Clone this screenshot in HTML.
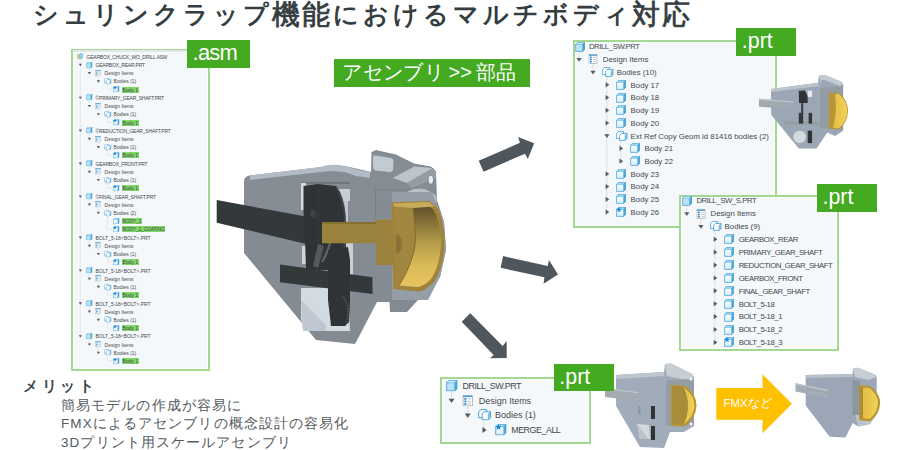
<!DOCTYPE html><html><head><meta charset="utf-8"><style>
html,body{margin:0;padding:0;background:#fff;width:900px;height:450px;overflow:hidden;font-family:"Liberation Sans", sans-serif;}
.t{position:absolute;white-space:nowrap;color:#43484d;}
</style></head><body>

<svg width="0" height="0" style="position:absolute;overflow:visible">
<defs>
<linearGradient id="cfront" x1="0" y1="0" x2="0" y2="1"><stop offset="0" stop-color="#ffffff"/><stop offset="1" stop-color="#d6eff9"/></linearGradient>
<symbol id="cubeb" viewBox="0 0 10 10">
  <path d="M0.6 2.4 L2.6 0.4 L9.6 0.4 L9.6 7.4 L7.6 9.4 L0.6 9.4 Z" fill="#b9e4f6" stroke="#3d9ad6" stroke-width="0.7"/>
  <path d="M0.6 2.4 L2.6 0.4 L9.6 0.4 L7.6 2.4 Z" fill="#dcf3fc" stroke="#3d9ad6" stroke-width="0.5"/>
  <path d="M7.6 2.4 L9.6 0.4 L9.6 7.4 L7.6 9.4 Z" fill="#4fa9d9" stroke="#3d9ad6" stroke-width="0.5"/>
</symbol>
<symbol id="cube" viewBox="0 0 10 10">
  <path d="M0.6 2.4 L2.6 0.4 L9.6 0.4 L9.6 7.4 L7.6 9.4 L0.6 9.4 Z" fill="url(#cfront)" stroke="#3d9ad6" stroke-width="0.7"/>
  <path d="M0.6 2.4 L2.6 0.4 L9.6 0.4 L7.6 2.4 Z" fill="#9ddcf3" stroke="#3d9ad6" stroke-width="0.4"/>
  <path d="M7.6 2.4 L9.6 0.4 L9.6 7.4 L7.6 9.4 Z" fill="#4fa9d9" stroke="#3d9ad6" stroke-width="0.4"/>
</symbol>
<symbol id="cubew" viewBox="0 0 10 10">
  <use href="#cube"/>
</symbol>
<symbol id="star" viewBox="0 0 10 10">
  <use href="#cube"/>
  <path d="M3.00 -0.30 L3.73 1.69 L5.85 1.77 L4.19 3.09 L4.76 5.13 L3.00 3.95 L1.24 5.13 L1.81 3.09 L0.15 1.77 L2.27 1.69 Z" fill="#1a86d6"/>
</symbol>
<symbol id="asm" viewBox="0 0 10 10">
  <rect x="0.5" y="2" width="7" height="7.5" fill="#f6d58a" stroke="#e0b050" stroke-width="0.6"/>
  <path d="M3 3 L4.5 1.2 L9.2 1.2 L9.2 6.5 L7.8 8.2 L3 8.2 Z" fill="#8fd0f2" stroke="#3d9ad6" stroke-width="0.6"/>
</symbol>
<symbol id="ditems" viewBox="0 0 10 10">
  <rect x="1" y="0.6" width="8" height="8.8" fill="#ffffff" stroke="#9aa4ab" stroke-width="0.6"/>
  <rect x="1" y="0.6" width="8" height="1.2" fill="#3d9ad6"/>
  <rect x="2" y="2.6" width="1.8" height="1.5" fill="#2a86d0"/>
  <rect x="2" y="4.8" width="1.8" height="1.5" fill="#2a86d0"/>
  <rect x="2" y="7" width="1.8" height="1.5" fill="#2a86d0"/>
  <path d="M5 3.3 H8 M5 5.5 H8 M5 7.7 H8" stroke="#a8b0b6" stroke-width="0.7"/>
</symbol>
<symbol id="bodies" viewBox="0 0 12 10">
  <path d="M0.6 2.6 L2.4 0.6 L7.6 0.6 L7.6 5.8 L5.8 7.6 L0.6 7.6 Z" fill="#ffffff" stroke="#3d9ad6" stroke-width="0.8"/>
  <path d="M3.6 4.4 L5.4 2.4 L10.8 2.4 L10.8 7.6 L9 9.4 L3.6 9.4 Z" fill="#ffffff" stroke="#3d9ad6" stroke-width="0.8"/>
  <path d="M9 4.4 L10.8 2.4 L10.8 7.6 L9 9.4 Z" fill="#8fcbee" stroke="#3d9ad6" stroke-width="0.5"/>
</symbol>
</defs>
</svg>

<div style="position:absolute;left:25.6px;top:-1.9px;width:40px;text-align:center;font-size:24.5px;line-height:34px;font-weight:bold;color:#343d3f;">シ</div>
<div style="position:absolute;left:55.6px;top:-1.9px;width:40px;text-align:center;font-size:24.5px;line-height:34px;font-weight:bold;color:#343d3f;">ュ</div>
<div style="position:absolute;left:85.6px;top:-1.9px;width:40px;text-align:center;font-size:24.5px;line-height:34px;font-weight:bold;color:#343d3f;">リ</div>
<div style="position:absolute;left:115.6px;top:-1.9px;width:40px;text-align:center;font-size:24.5px;line-height:34px;font-weight:bold;color:#343d3f;">ン</div>
<div style="position:absolute;left:145.6px;top:-1.9px;width:40px;text-align:center;font-size:24.5px;line-height:34px;font-weight:bold;color:#343d3f;">ク</div>
<div style="position:absolute;left:175.6px;top:-1.9px;width:40px;text-align:center;font-size:24.5px;line-height:34px;font-weight:bold;color:#343d3f;">ラ</div>
<div style="position:absolute;left:205.6px;top:-1.9px;width:40px;text-align:center;font-size:24.5px;line-height:34px;font-weight:bold;color:#343d3f;">ッ</div>
<div style="position:absolute;left:235.6px;top:-1.9px;width:40px;text-align:center;font-size:24.5px;line-height:34px;font-weight:bold;color:#343d3f;">プ</div>
<div style="position:absolute;left:265.6px;top:-2.0px;width:40px;text-align:center;font-size:28px;line-height:34px;font-weight:normal;color:#343d3f;-webkit-text-stroke:0.8px #343d3f;">機</div>
<div style="position:absolute;left:295.6px;top:-2.0px;width:40px;text-align:center;font-size:28px;line-height:34px;font-weight:normal;color:#343d3f;-webkit-text-stroke:0.8px #343d3f;">能</div>
<div style="position:absolute;left:325.6px;top:-1.9px;width:40px;text-align:center;font-size:24.5px;line-height:34px;font-weight:bold;color:#343d3f;">に</div>
<div style="position:absolute;left:355.6px;top:-1.9px;width:40px;text-align:center;font-size:24.5px;line-height:34px;font-weight:bold;color:#343d3f;">お</div>
<div style="position:absolute;left:385.6px;top:-1.9px;width:40px;text-align:center;font-size:24.5px;line-height:34px;font-weight:bold;color:#343d3f;">け</div>
<div style="position:absolute;left:415.6px;top:-1.9px;width:40px;text-align:center;font-size:24.5px;line-height:34px;font-weight:bold;color:#343d3f;">る</div>
<div style="position:absolute;left:445.6px;top:-1.9px;width:40px;text-align:center;font-size:24.5px;line-height:34px;font-weight:bold;color:#343d3f;">マ</div>
<div style="position:absolute;left:475.6px;top:-1.9px;width:40px;text-align:center;font-size:24.5px;line-height:34px;font-weight:bold;color:#343d3f;">ル</div>
<div style="position:absolute;left:505.6px;top:-1.9px;width:40px;text-align:center;font-size:24.5px;line-height:34px;font-weight:bold;color:#343d3f;">チ</div>
<div style="position:absolute;left:535.6px;top:-1.9px;width:40px;text-align:center;font-size:24.5px;line-height:34px;font-weight:bold;color:#343d3f;">ボ</div>
<div style="position:absolute;left:565.6px;top:-1.9px;width:40px;text-align:center;font-size:24.5px;line-height:34px;font-weight:bold;color:#343d3f;">デ</div>
<div style="position:absolute;left:595.6px;top:-1.9px;width:40px;text-align:center;font-size:24.5px;line-height:34px;font-weight:bold;color:#343d3f;">ィ</div>
<div style="position:absolute;left:625.6px;top:-2.0px;width:40px;text-align:center;font-size:28px;line-height:34px;font-weight:normal;color:#343d3f;-webkit-text-stroke:0.8px #343d3f;">対</div>
<div style="position:absolute;left:655.6px;top:-2.0px;width:40px;text-align:center;font-size:28px;line-height:34px;font-weight:normal;color:#343d3f;-webkit-text-stroke:0.8px #343d3f;">応</div>
<div style="position:absolute;left:71.3px;top:49px;width:138.5px;height:322px;box-sizing:border-box;border:2px solid #a2d892;background:#f5f8fa;box-shadow:inset 0 0 0 1px #fdfefe"></div>
<svg style="position:absolute;left:0;top:0;overflow:visible" width="1" height="1"><g stroke="#b4b9bd" stroke-width="0.45" stroke-dasharray="0.64 0.64"><line x1="80.37" y1="58.55" x2="80.37" y2="336.12"/><line x1="89.40" y1="66.77" x2="89.40" y2="72.95"/><line x1="98.42" y1="75.00" x2="98.42" y2="81.17"/><line x1="107.44" y1="83.22" x2="107.44" y2="89.40"/><line x1="107.44" y1="89.40" x2="113.40" y2="89.40"/><line x1="89.40" y1="99.67" x2="89.40" y2="105.84"/><line x1="98.42" y1="107.89" x2="98.42" y2="114.07"/><line x1="107.44" y1="116.12" x2="107.44" y2="122.29"/><line x1="107.44" y1="122.29" x2="113.40" y2="122.29"/><line x1="89.40" y1="132.56" x2="89.40" y2="138.74"/><line x1="98.42" y1="140.79" x2="98.42" y2="146.96"/><line x1="107.44" y1="149.01" x2="107.44" y2="155.19"/><line x1="107.44" y1="155.19" x2="113.40" y2="155.19"/><line x1="89.40" y1="165.46" x2="89.40" y2="171.64"/><line x1="98.42" y1="173.68" x2="98.42" y2="179.86"/><line x1="107.44" y1="181.91" x2="107.44" y2="188.08"/><line x1="107.44" y1="188.08" x2="113.40" y2="188.08"/><line x1="89.40" y1="198.36" x2="89.40" y2="204.53"/><line x1="98.42" y1="206.58" x2="98.42" y2="212.76"/><line x1="107.44" y1="214.80" x2="107.44" y2="229.20"/><line x1="107.44" y1="220.98" x2="113.40" y2="220.98"/><line x1="107.44" y1="229.20" x2="113.40" y2="229.20"/><line x1="89.40" y1="239.48" x2="89.40" y2="245.65"/><line x1="98.42" y1="247.70" x2="98.42" y2="253.88"/><line x1="107.44" y1="255.92" x2="107.44" y2="262.10"/><line x1="107.44" y1="262.10" x2="113.40" y2="262.10"/><line x1="89.40" y1="272.37" x2="89.40" y2="278.55"/><line x1="98.42" y1="280.60" x2="98.42" y2="286.77"/><line x1="107.44" y1="288.82" x2="107.44" y2="295.00"/><line x1="107.44" y1="295.00" x2="113.40" y2="295.00"/><line x1="89.40" y1="305.27" x2="89.40" y2="311.44"/><line x1="98.42" y1="313.49" x2="98.42" y2="319.67"/><line x1="107.44" y1="321.72" x2="107.44" y2="327.89"/><line x1="107.44" y1="327.89" x2="113.40" y2="327.89"/><line x1="89.40" y1="338.16" x2="89.40" y2="344.34"/><line x1="98.42" y1="346.39" x2="98.42" y2="352.56"/><line x1="107.44" y1="354.61" x2="107.44" y2="360.79"/><line x1="107.44" y1="360.79" x2="113.40" y2="360.79"/></g></svg>
<svg style="position:absolute;left:77.30px;top:53.30px;overflow:visible" width="6.40" height="6.40" viewBox="0 0 10 10"><use href="#asm"/></svg>
<div class="t" style="left:86.52px;top:53.79px;font-size:4.99px;line-height:5.99px;letter-spacing:-0.19px;">GEARBOX_CHUCK_WO_DRILL.ASM</div>
<svg style="position:absolute;left:86.32px;top:61.52px;overflow:visible" width="6.40" height="6.40" viewBox="0 0 10 10"><use href="#cubeb"/></svg>
<svg style="position:absolute;left:0;top:0;overflow:visible" width="1" height="1"><polygon points="78.71,63.81 82.04,63.81 80.37,66.22" fill="#555c62"/></svg>
<div class="t" style="left:95.54px;top:62.01px;font-size:4.99px;line-height:5.99px;letter-spacing:-0.19px;">GEARBOX_REAR.PRT</div>
<svg style="position:absolute;left:95.35px;top:69.75px;overflow:visible" width="6.40" height="6.40" viewBox="0 0 10 10"><use href="#ditems"/></svg>
<svg style="position:absolute;left:0;top:0;overflow:visible" width="1" height="1"><polygon points="87.73,72.03 91.06,72.03 89.40,74.45" fill="#555c62"/></svg>
<div class="t" style="left:104.56px;top:70.24px;font-size:4.99px;line-height:5.99px;">Design Items</div>
<svg style="position:absolute;left:104.37px;top:77.97px;overflow:visible" width="7.68" height="6.40" viewBox="0 0 12 10"><use href="#bodies"/></svg>
<svg style="position:absolute;left:0;top:0;overflow:visible" width="1" height="1"><polygon points="96.76,80.26 100.08,80.26 98.42,82.67" fill="#555c62"/></svg>
<div class="t" style="left:113.59px;top:78.46px;font-size:4.99px;line-height:5.99px;">Bodies (1)</div>
<svg style="position:absolute;left:113.40px;top:86.20px;overflow:visible" width="6.40" height="6.40" viewBox="0 0 10 10"><use href="#star"/></svg>
<div class="t" style="left:122.61px;top:86.68px;font-size:4.99px;line-height:5.99px;background:#80d866;padding:0 0.77px;margin-left:-0.77px;">Body 1</div>
<svg style="position:absolute;left:86.32px;top:94.42px;overflow:visible" width="6.40" height="6.40" viewBox="0 0 10 10"><use href="#cubeb"/></svg>
<svg style="position:absolute;left:0;top:0;overflow:visible" width="1" height="1"><polygon points="78.71,96.70 82.04,96.70 80.37,99.12" fill="#555c62"/></svg>
<div class="t" style="left:95.54px;top:94.91px;font-size:4.99px;line-height:5.99px;letter-spacing:-0.19px;">©PRIMARY_GEAR_SHAFT.PRT</div>
<svg style="position:absolute;left:95.35px;top:102.64px;overflow:visible" width="6.40" height="6.40" viewBox="0 0 10 10"><use href="#ditems"/></svg>
<svg style="position:absolute;left:0;top:0;overflow:visible" width="1" height="1"><polygon points="87.73,104.93 91.06,104.93 89.40,107.34" fill="#555c62"/></svg>
<div class="t" style="left:104.56px;top:103.13px;font-size:4.99px;line-height:5.99px;">Design Items</div>
<svg style="position:absolute;left:104.37px;top:110.87px;overflow:visible" width="7.68" height="6.40" viewBox="0 0 12 10"><use href="#bodies"/></svg>
<svg style="position:absolute;left:0;top:0;overflow:visible" width="1" height="1"><polygon points="96.76,113.15 100.08,113.15 98.42,115.57" fill="#555c62"/></svg>
<div class="t" style="left:113.59px;top:111.36px;font-size:4.99px;line-height:5.99px;">Bodies (1)</div>
<svg style="position:absolute;left:113.40px;top:119.09px;overflow:visible" width="6.40" height="6.40" viewBox="0 0 10 10"><use href="#star"/></svg>
<div class="t" style="left:122.61px;top:119.58px;font-size:4.99px;line-height:5.99px;background:#80d866;padding:0 0.77px;margin-left:-0.77px;">Body 1</div>
<svg style="position:absolute;left:86.32px;top:127.32px;overflow:visible" width="6.40" height="6.40" viewBox="0 0 10 10"><use href="#cubeb"/></svg>
<svg style="position:absolute;left:0;top:0;overflow:visible" width="1" height="1"><polygon points="78.71,129.60 82.04,129.60 80.37,132.01" fill="#555c62"/></svg>
<div class="t" style="left:95.54px;top:127.80px;font-size:4.99px;line-height:5.99px;letter-spacing:-0.19px;">©REDUCTION_GEAR_SHAFT.PRT</div>
<svg style="position:absolute;left:95.35px;top:135.54px;overflow:visible" width="6.40" height="6.40" viewBox="0 0 10 10"><use href="#ditems"/></svg>
<svg style="position:absolute;left:0;top:0;overflow:visible" width="1" height="1"><polygon points="87.73,137.82 91.06,137.82 89.40,140.24" fill="#555c62"/></svg>
<div class="t" style="left:104.56px;top:136.03px;font-size:4.99px;line-height:5.99px;">Design Items</div>
<svg style="position:absolute;left:104.37px;top:143.76px;overflow:visible" width="7.68" height="6.40" viewBox="0 0 12 10"><use href="#bodies"/></svg>
<svg style="position:absolute;left:0;top:0;overflow:visible" width="1" height="1"><polygon points="96.76,146.05 100.08,146.05 98.42,148.46" fill="#555c62"/></svg>
<div class="t" style="left:113.59px;top:144.25px;font-size:4.99px;line-height:5.99px;">Bodies (1)</div>
<svg style="position:absolute;left:113.40px;top:151.99px;overflow:visible" width="6.40" height="6.40" viewBox="0 0 10 10"><use href="#star"/></svg>
<div class="t" style="left:122.61px;top:152.48px;font-size:4.99px;line-height:5.99px;background:#80d866;padding:0 0.77px;margin-left:-0.77px;">Body 1</div>
<svg style="position:absolute;left:86.32px;top:160.21px;overflow:visible" width="6.40" height="6.40" viewBox="0 0 10 10"><use href="#cubeb"/></svg>
<svg style="position:absolute;left:0;top:0;overflow:visible" width="1" height="1"><polygon points="78.71,162.50 82.04,162.50 80.37,164.91" fill="#555c62"/></svg>
<div class="t" style="left:95.54px;top:160.70px;font-size:4.99px;line-height:5.99px;letter-spacing:-0.19px;">GEARBOX_FRONT.PRT</div>
<svg style="position:absolute;left:95.35px;top:168.44px;overflow:visible" width="6.40" height="6.40" viewBox="0 0 10 10"><use href="#ditems"/></svg>
<svg style="position:absolute;left:0;top:0;overflow:visible" width="1" height="1"><polygon points="87.73,170.72 91.06,170.72 89.40,173.13" fill="#555c62"/></svg>
<div class="t" style="left:104.56px;top:168.92px;font-size:4.99px;line-height:5.99px;">Design Items</div>
<svg style="position:absolute;left:104.37px;top:176.66px;overflow:visible" width="7.68" height="6.40" viewBox="0 0 12 10"><use href="#bodies"/></svg>
<svg style="position:absolute;left:0;top:0;overflow:visible" width="1" height="1"><polygon points="96.76,178.94 100.08,178.94 98.42,181.36" fill="#555c62"/></svg>
<div class="t" style="left:113.59px;top:177.15px;font-size:4.99px;line-height:5.99px;">Bodies (1)</div>
<svg style="position:absolute;left:113.40px;top:184.88px;overflow:visible" width="6.40" height="6.40" viewBox="0 0 10 10"><use href="#star"/></svg>
<div class="t" style="left:122.61px;top:185.37px;font-size:4.99px;line-height:5.99px;background:#80d866;padding:0 0.77px;margin-left:-0.77px;">Body 1</div>
<svg style="position:absolute;left:86.32px;top:193.11px;overflow:visible" width="6.40" height="6.40" viewBox="0 0 10 10"><use href="#cubeb"/></svg>
<svg style="position:absolute;left:0;top:0;overflow:visible" width="1" height="1"><polygon points="78.71,195.39 82.04,195.39 80.37,197.81" fill="#555c62"/></svg>
<div class="t" style="left:95.54px;top:193.60px;font-size:4.99px;line-height:5.99px;letter-spacing:-0.19px;">©FINAL_GEAR_SHAFT.PRT</div>
<svg style="position:absolute;left:95.35px;top:201.33px;overflow:visible" width="6.40" height="6.40" viewBox="0 0 10 10"><use href="#ditems"/></svg>
<svg style="position:absolute;left:0;top:0;overflow:visible" width="1" height="1"><polygon points="87.73,203.62 91.06,203.62 89.40,206.03" fill="#555c62"/></svg>
<div class="t" style="left:104.56px;top:201.82px;font-size:4.99px;line-height:5.99px;">Design Items</div>
<svg style="position:absolute;left:104.37px;top:209.56px;overflow:visible" width="7.68" height="6.40" viewBox="0 0 12 10"><use href="#bodies"/></svg>
<svg style="position:absolute;left:0;top:0;overflow:visible" width="1" height="1"><polygon points="96.76,211.84 100.08,211.84 98.42,214.25" fill="#555c62"/></svg>
<div class="t" style="left:113.59px;top:210.04px;font-size:4.99px;line-height:5.99px;">Bodies (2)</div>
<svg style="position:absolute;left:113.40px;top:217.78px;overflow:visible" width="6.40" height="6.40" viewBox="0 0 10 10"><use href="#cubew"/></svg>
<div class="t" style="left:122.61px;top:218.27px;font-size:4.99px;line-height:5.99px;letter-spacing:-0.19px;background:#80d866;padding:0 0.77px;margin-left:-0.77px;">BODY_1</div>
<svg style="position:absolute;left:113.40px;top:226.00px;overflow:visible" width="6.40" height="6.40" viewBox="0 0 10 10"><use href="#star"/></svg>
<div class="t" style="left:122.61px;top:226.49px;font-size:4.99px;line-height:5.99px;letter-spacing:-0.19px;background:#80d866;padding:0 0.77px;margin-left:-0.77px;">BODY_2_COATING</div>
<svg style="position:absolute;left:86.32px;top:234.23px;overflow:visible" width="6.40" height="6.40" viewBox="0 0 10 10"><use href="#cubeb"/></svg>
<svg style="position:absolute;left:0;top:0;overflow:visible" width="1" height="1"><polygon points="78.71,236.51 82.04,236.51 80.37,238.93" fill="#555c62"/></svg>
<div class="t" style="left:95.54px;top:234.72px;font-size:4.99px;line-height:5.99px;">BOLT_5-18&lt;BOLT&gt;.PRT</div>
<svg style="position:absolute;left:95.35px;top:242.45px;overflow:visible" width="6.40" height="6.40" viewBox="0 0 10 10"><use href="#ditems"/></svg>
<svg style="position:absolute;left:0;top:0;overflow:visible" width="1" height="1"><polygon points="87.73,244.74 91.06,244.74 89.40,247.15" fill="#555c62"/></svg>
<div class="t" style="left:104.56px;top:242.94px;font-size:4.99px;line-height:5.99px;">Design Items</div>
<svg style="position:absolute;left:104.37px;top:250.68px;overflow:visible" width="7.68" height="6.40" viewBox="0 0 12 10"><use href="#bodies"/></svg>
<svg style="position:absolute;left:0;top:0;overflow:visible" width="1" height="1"><polygon points="96.76,252.96 100.08,252.96 98.42,255.37" fill="#555c62"/></svg>
<div class="t" style="left:113.59px;top:251.16px;font-size:4.99px;line-height:5.99px;">Bodies (1)</div>
<svg style="position:absolute;left:113.40px;top:258.90px;overflow:visible" width="6.40" height="6.40" viewBox="0 0 10 10"><use href="#star"/></svg>
<div class="t" style="left:122.61px;top:259.39px;font-size:4.99px;line-height:5.99px;background:#80d866;padding:0 0.77px;margin-left:-0.77px;">Body 1</div>
<svg style="position:absolute;left:86.32px;top:267.12px;overflow:visible" width="6.40" height="6.40" viewBox="0 0 10 10"><use href="#cubeb"/></svg>
<svg style="position:absolute;left:0;top:0;overflow:visible" width="1" height="1"><polygon points="78.71,269.41 82.04,269.41 80.37,271.82" fill="#555c62"/></svg>
<div class="t" style="left:95.54px;top:267.61px;font-size:4.99px;line-height:5.99px;">BOLT_5-18&lt;BOLT&gt;.PRT</div>
<svg style="position:absolute;left:95.35px;top:275.35px;overflow:visible" width="6.40" height="6.40" viewBox="0 0 10 10"><use href="#ditems"/></svg>
<svg style="position:absolute;left:0;top:0;overflow:visible" width="1" height="1"><polygon points="87.73,277.63 91.06,277.63 89.40,280.05" fill="#555c62"/></svg>
<div class="t" style="left:104.56px;top:275.84px;font-size:4.99px;line-height:5.99px;">Design Items</div>
<svg style="position:absolute;left:104.37px;top:283.57px;overflow:visible" width="7.68" height="6.40" viewBox="0 0 12 10"><use href="#bodies"/></svg>
<svg style="position:absolute;left:0;top:0;overflow:visible" width="1" height="1"><polygon points="96.76,285.86 100.08,285.86 98.42,288.27" fill="#555c62"/></svg>
<div class="t" style="left:113.59px;top:284.06px;font-size:4.99px;line-height:5.99px;">Bodies (1)</div>
<svg style="position:absolute;left:113.40px;top:291.80px;overflow:visible" width="6.40" height="6.40" viewBox="0 0 10 10"><use href="#star"/></svg>
<div class="t" style="left:122.61px;top:292.28px;font-size:4.99px;line-height:5.99px;background:#80d866;padding:0 0.77px;margin-left:-0.77px;">Body 1</div>
<svg style="position:absolute;left:86.32px;top:300.02px;overflow:visible" width="6.40" height="6.40" viewBox="0 0 10 10"><use href="#cubeb"/></svg>
<svg style="position:absolute;left:0;top:0;overflow:visible" width="1" height="1"><polygon points="78.71,302.30 82.04,302.30 80.37,304.72" fill="#555c62"/></svg>
<div class="t" style="left:95.54px;top:300.51px;font-size:4.99px;line-height:5.99px;">BOLT_5-18&lt;BOLT&gt;.PRT</div>
<svg style="position:absolute;left:95.35px;top:308.24px;overflow:visible" width="6.40" height="6.40" viewBox="0 0 10 10"><use href="#ditems"/></svg>
<svg style="position:absolute;left:0;top:0;overflow:visible" width="1" height="1"><polygon points="87.73,310.53 91.06,310.53 89.40,312.94" fill="#555c62"/></svg>
<div class="t" style="left:104.56px;top:308.73px;font-size:4.99px;line-height:5.99px;">Design Items</div>
<svg style="position:absolute;left:104.37px;top:316.47px;overflow:visible" width="7.68" height="6.40" viewBox="0 0 12 10"><use href="#bodies"/></svg>
<svg style="position:absolute;left:0;top:0;overflow:visible" width="1" height="1"><polygon points="96.76,318.75 100.08,318.75 98.42,321.17" fill="#555c62"/></svg>
<div class="t" style="left:113.59px;top:316.96px;font-size:4.99px;line-height:5.99px;">Bodies (1)</div>
<svg style="position:absolute;left:113.40px;top:324.69px;overflow:visible" width="6.40" height="6.40" viewBox="0 0 10 10"><use href="#star"/></svg>
<div class="t" style="left:122.61px;top:325.18px;font-size:4.99px;line-height:5.99px;background:#80d866;padding:0 0.77px;margin-left:-0.77px;">Body 1</div>
<svg style="position:absolute;left:86.32px;top:332.92px;overflow:visible" width="6.40" height="6.40" viewBox="0 0 10 10"><use href="#cubeb"/></svg>
<svg style="position:absolute;left:0;top:0;overflow:visible" width="1" height="1"><polygon points="78.71,335.20 82.04,335.20 80.37,337.61" fill="#555c62"/></svg>
<div class="t" style="left:95.54px;top:333.40px;font-size:4.99px;line-height:5.99px;">BOLT_5-18&lt;BOLT&gt;.PRT</div>
<svg style="position:absolute;left:95.35px;top:341.14px;overflow:visible" width="6.40" height="6.40" viewBox="0 0 10 10"><use href="#ditems"/></svg>
<svg style="position:absolute;left:0;top:0;overflow:visible" width="1" height="1"><polygon points="87.73,343.42 91.06,343.42 89.40,345.84" fill="#555c62"/></svg>
<div class="t" style="left:104.56px;top:341.63px;font-size:4.99px;line-height:5.99px;">Design Items</div>
<svg style="position:absolute;left:104.37px;top:349.36px;overflow:visible" width="7.68" height="6.40" viewBox="0 0 12 10"><use href="#bodies"/></svg>
<svg style="position:absolute;left:0;top:0;overflow:visible" width="1" height="1"><polygon points="96.76,351.65 100.08,351.65 98.42,354.06" fill="#555c62"/></svg>
<div class="t" style="left:113.59px;top:349.85px;font-size:4.99px;line-height:5.99px;">Bodies (1)</div>
<svg style="position:absolute;left:113.40px;top:357.59px;overflow:visible" width="6.40" height="6.40" viewBox="0 0 10 10"><use href="#star"/></svg>
<div class="t" style="left:122.61px;top:358.08px;font-size:4.99px;line-height:5.99px;background:#80d866;padding:0 0.77px;margin-left:-0.77px;">Body 1</div>
<div style="position:absolute;left:73.3px;top:50.3px;width:134.5px;height:1.4px;background:#e4e7ea"></div>
<svg style="position:absolute;left:0;top:0" width="900" height="450" viewBox="0 0 900 450">
<defs>
<linearGradient id="gcup" x1="0" y1="0" x2="0" y2="1">
<stop offset="0" stop-color="#5e4f28"/><stop offset="0.45" stop-color="#b49b4b"/><stop offset="0.75" stop-color="#dcbc58"/><stop offset="1" stop-color="#e6c460"/>
</linearGradient>
<linearGradient id="gbody" x1="0" y1="0" x2="0" y2="1">
<stop offset="0" stop-color="#868d95"/><stop offset="1" stop-color="#838a92"/>
</linearGradient>
</defs>
<!-- main gray body -->
<path d="M244,181 Q244.5,176 250,175.5 L322,167 L345,166 L371,172 L371.5,152.5 L376,150.5 L396,155 L414,164 L431,167 L436,172 L437,200 L444,222 L446,250 L440,277 L427,293 L418,300 L407,312 L390,312 L389.5,302 L377,302 L355,344 L316,340 L244,253 Z" fill="url(#gbody)"/>
<!-- top light surfaces -->
<path d="M250,175.5 L320,167 Q332,163 345,166 L358,170 L370,172 L370,178 L356,176 L345,172 L330,171 L250,180 Z" fill="#b2bcc6"/>
<path d="M373,157 Q373,155 376,155.5 L391,158 Q394,159 393.5,163 L393,170 Q392.5,172.5 389,172 L375,170.5 Q373,170 373,167 Z" fill="#c2cad2"/>
<path d="M392.7,178 L414.4,166.4 L433,168 L407,183 Z" fill="#bcc4cc"/>
<path d="M407,183 L433,168 L436,172 L436,178 L412,188 Z" fill="#959da5"/>
<ellipse cx="430.8" cy="179.7" rx="2.6" ry="4.3" fill="#e8ecef" stroke="#6d747b" stroke-width="0.6"/>
<path d="M408,191 Q424,184 436,196 L437,203 Q425,192 411,197 Z" fill="#b8c0c8"/>
<path d="M371.5,152.5 L376,150.5 L396,155 L414,164 L431,167 L436,172" fill="none" stroke="#6e757c" stroke-width="0.7"/>
<path d="M375,190 L410,190" stroke="#737a81" stroke-width="0.7"/>
<path d="M375.6,190 L375.6,219" stroke="#737a81" stroke-width="0.7"/>
<!-- ring behind cup -->
<path d="M392,192 L432,192 L444,222 L446,250 L440,277 L428,300 L392,300 Z" fill="#959da6"/>
<!-- cavity upper -->
<path d="M301,182 L350,182 L350,272 L301,272 Z" fill="#858c94"/>
<path d="M301,182 L350,182 L350,184 L301,184 Z" fill="#6f767e"/>
<path d="M301,183 L306,183 L306,210 L301,210 Z" fill="#d3dae0"/>
<path d="M338,189 L350,189 L350,201 L338,201 Z" fill="#c6cdd3"/>
<path d="M340,201 L348,201 L348,224 L340,224 Z" fill="#c0c7ce"/>
<path d="M346,243 L353,243 L353,276 L346,276 Z" fill="#c8cfd5"/>
<path d="M302,246 L308,246 L308,264 L302,264 Z" fill="#ccd3d9"/>
<path d="M323,257 L331,257 L331,268 L323,268 Z" fill="#d0d8de"/>
<!-- lower cavity light -->
<path d="M301,288 L348,288 L350,331 L303,331 L301,318 Z" fill="#d3dbe2"/>
<path d="M301,300 L326,325 L326,331 L303,331 Z" fill="#bfc8d0"/>
<!-- black left shaft -->
<path d="M216.7,200 L306,216.5 L306,244 L216.7,222.7 Z" fill="#33383b"/>
<!-- black upper gear: plate + wheel -->
<path d="M303.5,186 L318,184 L336,186 Q344,196 345.5,215 L346,245 Q345,262 340,270 L306,270 L305,238 L303.5,214 Z" fill="#2f3336"/>
<path d="M318,186 L318,268" stroke="#3b3f42" stroke-width="0.8"/>
<path d="M336,187 Q345,200 345.5,228 Q345,255 339,268" fill="none" stroke="#4f5457" stroke-width="2.2" stroke-dasharray="0.9 0.9"/>
<path d="M322,262 Q328,252 331,240" fill="none" stroke="#5d6265" stroke-width="2.4"/>
<ellipse cx="313" cy="214" rx="3" ry="4" fill="#3d4144"/>
<!-- lower black horizontal bar -->
<path d="M280,264.4 L372.5,277.2 L372.5,294 L280,282.2 Z" fill="#33383b"/>
<!-- lower black vertical gear -->
<path d="M328,250 L348,247 L350,260 L350,300 L349,322 L345,326 L331,326 L328,300 Z" fill="#2f3336"/>
<path d="M343,296 Q350,306 347,322" fill="none" stroke="#55595c" stroke-width="2" stroke-dasharray="1 1"/>
<path d="M318,244 L324,246 L318,268 L313,266 Z" fill="#55595c"/>
<!-- gold shaft -->
<path d="M322,222 L376,222 L376,219.5 L393,219.5 L393,265 L376,265 L376,243.3 L322,243.3 Z" fill="#9b823c"/>
<path d="M322,222 L376,222 L376,224 L322,224 Z" fill="#86702f"/>
<!-- gold cup -->
<path d="M391.5,202.2 L428.7,201 L436,205.9 Q443,215 444.6,240 Q444,268 434,282 Q425,291 419,291.5 L393.2,289 Z" fill="#a08338"/>
<path d="M394,204.5 L428,203.5 L434,208 Q441,218 442.3,240 Q441.5,266 432,280 Q424,288 418,289 L395.5,286.8 Z" fill="#a0863f"/>
<path d="M413,207 L428,206 L433,209 Q440,220 441,242 Q440,266 431,279 Q423,287 417,287 L399,285.5 Q414,262 415.5,240 Q415,222 413,207 Z" fill="url(#gcup)"/>
<path d="M413,207 Q415,222 415.5,240 Q414,262 399,285.5" fill="none" stroke="#7e6825" stroke-width="0.9"/>
<path d="M393,203.5 L428.5,202 L435,206.5 L413,208 L394,206.5 Z" fill="#c8ab5c"/>
<path d="M396,234 Q402,236 402,244 Q402,252 396,254 Z" fill="#8a7236"/>
</svg>
<div style="position:absolute;left:186.7px;top:39.5px;width:63.6px;height:28px;background:#43aa22"></div><div style="position:absolute;left:192.6px;top:42.4px;font-size:22px;line-height:1;color:#fff;white-space:nowrap;letter-spacing:-0.8px">.asm</div>
<div style="position:absolute;left:334px;top:59px;width:196px;height:28px;background:#43aa22"></div>
<div style="position:absolute;left:342.3px;top:60px;font-size:20px;line-height:24px;color:#fff;letter-spacing:0.4px;white-space:nowrap">アセンブリ</div>
<div style="position:absolute;left:448.5px;top:60px;font-size:20px;line-height:24px;color:#fff;letter-spacing:0px;white-space:nowrap">&gt;&gt;</div>
<div style="position:absolute;left:475.5px;top:60px;font-size:20px;line-height:24px;color:#fff;letter-spacing:0.8px;white-space:nowrap">部品</div>
<div style="position:absolute;left:572.5px;top:40px;width:204.5px;height:188px;box-sizing:border-box;border:2px solid #a2d892;background:#f5f8fa;box-shadow:inset 0 0 0 1px #fdfefe"></div>
<svg style="position:absolute;left:0;top:0;overflow:visible" width="1" height="1"><g stroke="#b4b9bd" stroke-width="0.70" stroke-dasharray="1.00 1.00"><line x1="579.10" y1="49.90" x2="579.10" y2="59.42"/><line x1="593.00" y1="62.62" x2="593.00" y2="72.14"/><line x1="606.90" y1="75.34" x2="606.90" y2="212.06"/><line x1="620.80" y1="138.94" x2="620.80" y2="161.18"/></g></svg>
<svg style="position:absolute;left:574.50px;top:41.70px;overflow:visible" width="10.00" height="10.00" viewBox="0 0 10 10"><use href="#cubeb"/></svg>
<div class="t" style="left:588.90px;top:42.46px;font-size:7.80px;line-height:9.36px;letter-spacing:-0.45px;">DRILL_SW.PRT</div>
<svg style="position:absolute;left:588.40px;top:54.42px;overflow:visible" width="10.00" height="10.00" viewBox="0 0 10 10"><use href="#ditems"/></svg>
<svg style="position:absolute;left:0;top:0;overflow:visible" width="1" height="1"><polygon points="576.50,57.99 581.70,57.99 579.10,61.76" fill="#555c62"/></svg>
<div class="t" style="left:602.80px;top:55.18px;font-size:7.80px;line-height:9.36px;">Design Items</div>
<svg style="position:absolute;left:602.30px;top:67.14px;overflow:visible" width="12.00" height="10.00" viewBox="0 0 12 10"><use href="#bodies"/></svg>
<svg style="position:absolute;left:0;top:0;overflow:visible" width="1" height="1"><polygon points="590.40,70.71 595.60,70.71 593.00,74.48" fill="#555c62"/></svg>
<div class="t" style="left:616.70px;top:67.90px;font-size:7.80px;line-height:9.36px;">Bodies (10)</div>
<svg style="position:absolute;left:616.20px;top:79.86px;overflow:visible" width="10.00" height="10.00" viewBox="0 0 10 10"><use href="#cube"/></svg>
<svg style="position:absolute;left:0;top:0;overflow:visible" width="1" height="1"><polygon points="605.60,82.26 609.24,84.86 605.60,87.46" fill="#555c62"/></svg>
<div class="t" style="left:630.60px;top:80.62px;font-size:7.80px;line-height:9.36px;">Body 17</div>
<svg style="position:absolute;left:616.20px;top:92.58px;overflow:visible" width="10.00" height="10.00" viewBox="0 0 10 10"><use href="#cube"/></svg>
<svg style="position:absolute;left:0;top:0;overflow:visible" width="1" height="1"><polygon points="605.60,94.98 609.24,97.58 605.60,100.18" fill="#555c62"/></svg>
<div class="t" style="left:630.60px;top:93.34px;font-size:7.80px;line-height:9.36px;">Body 18</div>
<svg style="position:absolute;left:616.20px;top:105.30px;overflow:visible" width="10.00" height="10.00" viewBox="0 0 10 10"><use href="#cube"/></svg>
<svg style="position:absolute;left:0;top:0;overflow:visible" width="1" height="1"><polygon points="605.60,107.70 609.24,110.30 605.60,112.90" fill="#555c62"/></svg>
<div class="t" style="left:630.60px;top:106.06px;font-size:7.80px;line-height:9.36px;">Body 19</div>
<svg style="position:absolute;left:616.20px;top:118.02px;overflow:visible" width="10.00" height="10.00" viewBox="0 0 10 10"><use href="#cube"/></svg>
<svg style="position:absolute;left:0;top:0;overflow:visible" width="1" height="1"><polygon points="605.60,120.42 609.24,123.02 605.60,125.62" fill="#555c62"/></svg>
<div class="t" style="left:630.60px;top:118.78px;font-size:7.80px;line-height:9.36px;">Body 20</div>
<svg style="position:absolute;left:616.20px;top:130.74px;overflow:visible" width="12.00" height="10.00" viewBox="0 0 12 10"><use href="#bodies"/></svg>
<svg style="position:absolute;left:0;top:0;overflow:visible" width="1" height="1"><polygon points="604.30,134.31 609.50,134.31 606.90,138.08" fill="#555c62"/></svg>
<div class="t" style="left:630.60px;top:131.50px;font-size:7.80px;line-height:9.36px;">Ext Ref Copy Geom id 81416 bodies (2)</div>
<svg style="position:absolute;left:630.10px;top:143.46px;overflow:visible" width="10.00" height="10.00" viewBox="0 0 10 10"><use href="#cube"/></svg>
<svg style="position:absolute;left:0;top:0;overflow:visible" width="1" height="1"><polygon points="619.50,145.86 623.14,148.46 619.50,151.06" fill="#555c62"/></svg>
<div class="t" style="left:644.50px;top:144.22px;font-size:7.80px;line-height:9.36px;">Body 21</div>
<svg style="position:absolute;left:630.10px;top:156.18px;overflow:visible" width="10.00" height="10.00" viewBox="0 0 10 10"><use href="#cube"/></svg>
<svg style="position:absolute;left:0;top:0;overflow:visible" width="1" height="1"><polygon points="619.50,158.58 623.14,161.18 619.50,163.78" fill="#555c62"/></svg>
<div class="t" style="left:644.50px;top:156.94px;font-size:7.80px;line-height:9.36px;">Body 22</div>
<svg style="position:absolute;left:616.20px;top:168.90px;overflow:visible" width="10.00" height="10.00" viewBox="0 0 10 10"><use href="#cube"/></svg>
<svg style="position:absolute;left:0;top:0;overflow:visible" width="1" height="1"><polygon points="605.60,171.30 609.24,173.90 605.60,176.50" fill="#555c62"/></svg>
<div class="t" style="left:630.60px;top:169.66px;font-size:7.80px;line-height:9.36px;">Body 23</div>
<svg style="position:absolute;left:616.20px;top:181.62px;overflow:visible" width="10.00" height="10.00" viewBox="0 0 10 10"><use href="#cube"/></svg>
<svg style="position:absolute;left:0;top:0;overflow:visible" width="1" height="1"><polygon points="605.60,184.02 609.24,186.62 605.60,189.22" fill="#555c62"/></svg>
<div class="t" style="left:630.60px;top:182.38px;font-size:7.80px;line-height:9.36px;">Body 24</div>
<svg style="position:absolute;left:616.20px;top:194.34px;overflow:visible" width="10.00" height="10.00" viewBox="0 0 10 10"><use href="#cube"/></svg>
<svg style="position:absolute;left:0;top:0;overflow:visible" width="1" height="1"><polygon points="605.60,196.74 609.24,199.34 605.60,201.94" fill="#555c62"/></svg>
<div class="t" style="left:630.60px;top:195.10px;font-size:7.80px;line-height:9.36px;">Body 25</div>
<svg style="position:absolute;left:616.20px;top:207.06px;overflow:visible" width="10.00" height="10.00" viewBox="0 0 10 10"><use href="#star"/></svg>
<svg style="position:absolute;left:0;top:0;overflow:visible" width="1" height="1"><polygon points="605.60,209.46 609.24,212.06 605.60,214.66" fill="#555c62"/></svg>
<div class="t" style="left:630.60px;top:207.82px;font-size:7.80px;line-height:9.36px;">Body 26</div>
<div style="position:absolute;left:736px;top:28px;width:60px;height:27.7px;background:#43aa22"></div><div style="position:absolute;left:741.8px;top:30.6px;font-size:21.4px;line-height:1;color:#fff;white-space:nowrap;letter-spacing:0px">.prt</div>
<svg style="position:absolute;left:0;top:0" width="900" height="450" viewBox="0 0 900 450"><defs>
<linearGradient id="gcup2" x1="0" y1="0" x2="1" y2="0">
<stop offset="0" stop-color="#e2bd45"/><stop offset="1" stop-color="#f2d35a"/>
</linearGradient></defs>
<path d="M771,89 L818,82.7 L819,75.6 L825,75 L841.4,81.8 L843.2,84 L843.2,130.7 L835,136 L827.2,132.4 L816.6,148.4 L798.8,148.4 L771.2,114.7 Z" fill="#9ca7b5"/>
<path d="M771,89 L818,82.7 L819,86 L771,92 Z" fill="#bdc4cb"/>
<path d="M819,75.6 L825,75 L841.4,81.8 L843,84 L840,86 L825,80 L821,80 L821,86 Z" fill="#c3cad1"/>
<circle cx="840" cy="88" r="1.5" fill="#eef1f4"/>
<path d="M820,88 L843,86 L843,130 L820,128 Z" fill="#939ba3"/>
<path d="M759,98.7 L793.4,101.3 L793.4,109.3 L759,106.7 Z" fill="#a1a9b1"/>
<path d="M759,98.7 L793.4,101.3 L793.4,102.6 L759,100 Z" fill="#bfc6cc"/>
<path d="M784.6,120.9 L820,121.5 L820,125.3 L784.6,124.7 Z" fill="#959da5"/>
<path d="M798.8,90.7 L805,90.5 L807.7,96 L807.7,103 L799,103 Z" fill="#2f3336"/>
<path d="M801.2,103 L803.2,103 L803.2,113 L801.2,113 Z" fill="#3a3e41"/>
<rect x="807.7" y="90.7" width="4.4" height="6.2" fill="#e6eaee"/>
<rect x="798.8" y="112.9" width="4.4" height="10.7" fill="#33373a"/>
<rect x="808.6" y="112.9" width="3.5" height="10.7" fill="#33373a"/>
<rect x="807.7" y="130.7" width="4.4" height="12.4" fill="#2f3336"/>
<ellipse cx="799.6" cy="136.9" rx="6.2" ry="6.2" fill="#d3dae0"/>
<path d="M829,92.8 L839,93.2 Q848,100 848,111 Q847.4,123 839,129.2 L829,128.6 Z" fill="#b8942c"/>
<path d="M829.6,93.6 L835,93.8 Q837.5,110 833,128 L829.6,128 Z" fill="#b99536"/>
<path d="M835,94 L839,94 Q847.2,101 847.2,111 Q846.7,122.5 839,128.3 L833,128 Q837.5,110 835,94 Z" fill="url(#gcup2)"/>
</svg>
<div style="position:absolute;left:678.7px;top:194.6px;width:160.5px;height:156.5px;box-sizing:border-box;border:2px solid #a2d892;background:#f5f8fa;box-shadow:inset 0 0 0 1px #fdfefe"></div>
<svg style="position:absolute;left:0;top:0;overflow:visible" width="1" height="1"><g stroke="#b4b9bd" stroke-width="0.70" stroke-dasharray="1.00 1.00"><line x1="686.80" y1="203.90" x2="686.80" y2="213.58"/><line x1="700.90" y1="216.78" x2="700.90" y2="226.46"/><line x1="715.00" y1="229.66" x2="715.00" y2="342.38"/></g></svg>
<svg style="position:absolute;left:682.00px;top:195.70px;overflow:visible" width="10.00" height="10.00" viewBox="0 0 10 10"><use href="#cubeb"/></svg>
<div class="t" style="left:696.40px;top:196.46px;font-size:7.80px;line-height:9.36px;letter-spacing:-0.45px;">DRILL_SW_S.PRT</div>
<svg style="position:absolute;left:696.10px;top:208.58px;overflow:visible" width="10.00" height="10.00" viewBox="0 0 10 10"><use href="#ditems"/></svg>
<svg style="position:absolute;left:0;top:0;overflow:visible" width="1" height="1"><polygon points="684.20,212.15 689.40,212.15 686.80,215.92" fill="#555c62"/></svg>
<div class="t" style="left:710.50px;top:209.34px;font-size:7.80px;line-height:9.36px;">Design Items</div>
<svg style="position:absolute;left:710.20px;top:221.46px;overflow:visible" width="12.00" height="10.00" viewBox="0 0 12 10"><use href="#bodies"/></svg>
<svg style="position:absolute;left:0;top:0;overflow:visible" width="1" height="1"><polygon points="698.30,225.03 703.50,225.03 700.90,228.80" fill="#555c62"/></svg>
<div class="t" style="left:724.60px;top:222.22px;font-size:7.80px;line-height:9.36px;">Bodies (9)</div>
<svg style="position:absolute;left:724.30px;top:234.34px;overflow:visible" width="10.00" height="10.00" viewBox="0 0 10 10"><use href="#cube"/></svg>
<svg style="position:absolute;left:0;top:0;overflow:visible" width="1" height="1"><polygon points="713.70,236.74 717.34,239.34 713.70,241.94" fill="#555c62"/></svg>
<div class="t" style="left:738.70px;top:235.10px;font-size:7.80px;line-height:9.36px;letter-spacing:-0.45px;">GEARBOX_REAR</div>
<svg style="position:absolute;left:724.30px;top:247.22px;overflow:visible" width="10.00" height="10.00" viewBox="0 0 10 10"><use href="#cube"/></svg>
<svg style="position:absolute;left:0;top:0;overflow:visible" width="1" height="1"><polygon points="713.70,249.62 717.34,252.22 713.70,254.82" fill="#555c62"/></svg>
<div class="t" style="left:738.70px;top:247.98px;font-size:7.80px;line-height:9.36px;letter-spacing:-0.45px;">PRIMARY_GEAR_SHAFT</div>
<svg style="position:absolute;left:724.30px;top:260.10px;overflow:visible" width="10.00" height="10.00" viewBox="0 0 10 10"><use href="#cube"/></svg>
<svg style="position:absolute;left:0;top:0;overflow:visible" width="1" height="1"><polygon points="713.70,262.50 717.34,265.10 713.70,267.70" fill="#555c62"/></svg>
<div class="t" style="left:738.70px;top:260.86px;font-size:7.80px;line-height:9.36px;letter-spacing:-0.45px;">REDUCTION_GEAR_SHAFT</div>
<svg style="position:absolute;left:724.30px;top:272.98px;overflow:visible" width="10.00" height="10.00" viewBox="0 0 10 10"><use href="#cube"/></svg>
<svg style="position:absolute;left:0;top:0;overflow:visible" width="1" height="1"><polygon points="713.70,275.38 717.34,277.98 713.70,280.58" fill="#555c62"/></svg>
<div class="t" style="left:738.70px;top:273.74px;font-size:7.80px;line-height:9.36px;letter-spacing:-0.45px;">GEARBOX_FRONT</div>
<svg style="position:absolute;left:724.30px;top:285.86px;overflow:visible" width="10.00" height="10.00" viewBox="0 0 10 10"><use href="#cube"/></svg>
<svg style="position:absolute;left:0;top:0;overflow:visible" width="1" height="1"><polygon points="713.70,288.26 717.34,290.86 713.70,293.46" fill="#555c62"/></svg>
<div class="t" style="left:738.70px;top:286.62px;font-size:7.80px;line-height:9.36px;letter-spacing:-0.45px;">FINAL_GEAR_SHAFT</div>
<svg style="position:absolute;left:724.30px;top:298.74px;overflow:visible" width="10.00" height="10.00" viewBox="0 0 10 10"><use href="#cube"/></svg>
<svg style="position:absolute;left:0;top:0;overflow:visible" width="1" height="1"><polygon points="713.70,301.14 717.34,303.74 713.70,306.34" fill="#555c62"/></svg>
<div class="t" style="left:738.70px;top:299.50px;font-size:7.80px;line-height:9.36px;letter-spacing:-0.45px;">BOLT_5-18</div>
<svg style="position:absolute;left:724.30px;top:311.62px;overflow:visible" width="10.00" height="10.00" viewBox="0 0 10 10"><use href="#cube"/></svg>
<svg style="position:absolute;left:0;top:0;overflow:visible" width="1" height="1"><polygon points="713.70,314.02 717.34,316.62 713.70,319.22" fill="#555c62"/></svg>
<div class="t" style="left:738.70px;top:312.38px;font-size:7.80px;line-height:9.36px;letter-spacing:-0.45px;">BOLT_5-18_1</div>
<svg style="position:absolute;left:724.30px;top:324.50px;overflow:visible" width="10.00" height="10.00" viewBox="0 0 10 10"><use href="#cube"/></svg>
<svg style="position:absolute;left:0;top:0;overflow:visible" width="1" height="1"><polygon points="713.70,326.90 717.34,329.50 713.70,332.10" fill="#555c62"/></svg>
<div class="t" style="left:738.70px;top:325.26px;font-size:7.80px;line-height:9.36px;letter-spacing:-0.45px;">BOLT_5-18_2</div>
<svg style="position:absolute;left:724.30px;top:337.38px;overflow:visible" width="10.00" height="10.00" viewBox="0 0 10 10"><use href="#star"/></svg>
<svg style="position:absolute;left:0;top:0;overflow:visible" width="1" height="1"><polygon points="713.70,339.78 717.34,342.38 713.70,344.98" fill="#555c62"/></svg>
<div class="t" style="left:738.70px;top:338.14px;font-size:7.80px;line-height:9.36px;letter-spacing:-0.45px;">BOLT_5-18_3</div>
<div style="position:absolute;left:816.7px;top:184.3px;width:60px;height:27.9px;background:#43aa22"></div><div style="position:absolute;left:822.5px;top:186.9px;font-size:21.4px;line-height:1;color:#fff;white-space:nowrap;letter-spacing:0px">.prt</div>
<div style="position:absolute;left:439.6px;top:376.5px;width:151.5px;height:67px;box-sizing:border-box;border:2px solid #a2d892;background:#f5f8fa;box-shadow:inset 0 0 0 1px #fdfefe"></div>
<svg style="position:absolute;left:0;top:0;overflow:visible" width="1" height="1"><g stroke="#b4b9bd" stroke-width="0.80" stroke-dasharray="1.15 1.15"><line x1="451.52" y1="389.28" x2="451.52" y2="400.40"/><line x1="467.74" y1="404.08" x2="467.74" y2="415.20"/><line x1="483.95" y1="418.88" x2="483.95" y2="430.00"/></g></svg>
<svg style="position:absolute;left:446.00px;top:379.85px;overflow:visible" width="11.50" height="11.50" viewBox="0 0 10 10"><use href="#cubeb"/></svg>
<div class="t" style="left:462.56px;top:380.73px;font-size:8.97px;line-height:10.76px;letter-spacing:-0.52px;">DRILL_SW.PRT</div>
<svg style="position:absolute;left:462.21px;top:394.65px;overflow:visible" width="11.50" height="11.50" viewBox="0 0 10 10"><use href="#ditems"/></svg>
<svg style="position:absolute;left:0;top:0;overflow:visible" width="1" height="1"><polygon points="448.53,398.76 454.51,398.76 451.52,403.09" fill="#555c62"/></svg>
<div class="t" style="left:478.77px;top:395.53px;font-size:8.97px;line-height:10.76px;">Design Items</div>
<svg style="position:absolute;left:478.43px;top:409.45px;overflow:visible" width="13.80" height="11.50" viewBox="0 0 12 10"><use href="#bodies"/></svg>
<svg style="position:absolute;left:0;top:0;overflow:visible" width="1" height="1"><polygon points="464.75,413.56 470.73,413.56 467.74,417.89" fill="#555c62"/></svg>
<div class="t" style="left:494.99px;top:410.33px;font-size:8.97px;line-height:10.76px;">Bodies (1)</div>
<svg style="position:absolute;left:494.64px;top:424.25px;overflow:visible" width="11.50" height="11.50" viewBox="0 0 10 10"><use href="#star"/></svg>
<svg style="position:absolute;left:0;top:0;overflow:visible" width="1" height="1"><polygon points="482.45,427.01 486.64,430.00 482.45,432.99" fill="#555c62"/></svg>
<div class="t" style="left:511.20px;top:425.13px;font-size:8.97px;line-height:10.76px;letter-spacing:-0.52px;">MERGE_ALL</div>
<svg style="position:absolute;left:0;top:0" width="900" height="450" viewBox="0 0 900 450"><defs>
<linearGradient id="gcup2" x1="0" y1="0" x2="1" y2="0">
<stop offset="0" stop-color="#e2bd45"/><stop offset="1" stop-color="#f2d35a"/>
</linearGradient></defs>
<path d="M616,375 L664,372 L665,364 L671,363.5 L692,374 L694,377 L694,426 L684,432 L670,432 L664,448 L640,447 L616,406 Z" fill="#a0acba"/>
<path d="M616,375 L664,372 L664,376 L616,379 Z" fill="#bec5cc"/>
<path d="M665,364 L671,363.5 L692,374 L694,377 L686,380 L667,376 Z" fill="#c6cdd3"/>
<path d="M666,380 L694,379 L694,426 L666,426 Z" fill="#959da5"/>
<path d="M605,388 L638,392 L638,401 L605,397 Z" fill="#a3abb3"/>
<path d="M605,388 L638,392 L638,393.3 L605,389.3 Z" fill="#bfc6cc"/>
<rect x="651" y="406" width="4" height="13" fill="#2f3336"/>
<rect x="651" y="426" width="4" height="14" fill="#2f3336"/>
<rect x="638" y="406" width="2.5" height="8" fill="#8e969e"/>
<path d="M637,424 L649,425 L650,439 L640,439 Z" fill="#d3dae0"/>
<path d="M637,424 L649,439 L640,439 Z" fill="#bcc4cb"/>
<circle cx="691" cy="379" r="1.6" fill="#f4f6f8"/>
<circle cx="691" cy="424" r="1.6" fill="#f4f6f8"/>
<path d="M671,385 L684,385.5 Q696.5,394 696.5,405.5 Q696,418 684,426.5 L671,425.8 Z" fill="#b8942c"/>
<path d="M672,386.5 L683,387 Q688,396 688,405.5 Q688,416 683,424.5 L672,424 Z" fill="#a88c3a"/>
<path d="M683,388 Q688.5,396 688.5,405.5 Q688.5,416 683,423.5" fill="none" stroke="#7a6426" stroke-width="1.2" stroke-dasharray="1 0.8"/>
<path d="M683,387 Q694.5,395 694.5,405.5 Q694,417 683,424.5 Q688,416 688,405.5 Q688,396 683,387 Z" fill="url(#gcup2)"/>
</svg>
<div style="position:absolute;left:553.9px;top:363.9px;width:60.1px;height:27.4px;background:#43aa22"></div><div style="position:absolute;left:559.3px;top:366.5px;font-size:21.4px;line-height:1;color:#fff;white-space:nowrap;letter-spacing:0px">.prt</div>
<svg style="position:absolute;left:0;top:0" width="900" height="450" viewBox="0 0 900 450"><defs>
<linearGradient id="gcup2" x1="0" y1="0" x2="1" y2="0">
<stop offset="0" stop-color="#e2bd45"/><stop offset="1" stop-color="#f2d35a"/>
</linearGradient></defs>
<path d="M805.7,374.9 L852.7,374 L852.7,368.5 L858,367.8 L875.8,374.9 L876.7,377 L876.7,414 L870,424 L858.3,426.6 L852.7,422.9 L845.4,437.6 L829.7,436.7 L805.7,405.4 Z" fill="#9ba7b6"/>
<path d="M805.7,374.9 L852.7,374 L852.7,377 L805.7,378 Z" fill="#b9c0c8"/>
<path d="M852.7,368.5 L858,367.8 L875.8,374.9 L876.7,377 L868,380 L855,377 Z" fill="#c7ced4"/>
<path d="M852.7,380.5 L860.1,380.5 L860.1,415.5 L852.7,415.5 Z" fill="#8d959e"/>
<path d="M855,415 L876,414 L870,424 L858.3,426.6 Z" fill="#bcc3ca"/>
<path d="M795.5,383.2 L827.8,389.7 L827.8,398 L795.5,391.5 Z" fill="#a4acb5"/>
<path d="M795.5,383.2 L827.8,389.7 L827.8,391 L795.5,384.5 Z" fill="#c0c7cd"/>
<path d="M807,389 L827,392.5" stroke="#8e969f" stroke-width="0.6"/>
<path d="M859.2,385 L870,386 Q880.3,394 880.1,403 Q879.8,414 870,421.3 L859.2,420.3 Z" fill="#b8942c"/>
<path d="M860,387.3 L863,387.5 L863,417.8 L860,417.6 Z" fill="#a88c3a"/>
<path d="M863,387.5 L869.5,388 Q878,395 878,403 Q877.5,413 869.5,419 L863,418 Z" fill="url(#gcup2)"/>
</svg>
<svg style="position:absolute;left:0;top:0" width="900" height="450">
<polygon points="478.7,160.8 483.6,171.7 525,153.7 527.8,158.9 534.2,143.3 518,137 520,142.8" fill="#4f575c"/>
<polygon points="503.1,256.1 500.6,267.8 544.4,277.2 543.6,283.7 558,274.4 548.9,260 547.8,266.1" fill="#4f575c"/>
<polygon points="461.7,321.7 470.3,313.3 502.7,346.1 506.7,341 506.7,358.1 489.9,358.3 493.7,355" fill="#4f575c"/>
<polygon points="716.3,388 762.5,388 762.5,374.2 792,403.7 762.5,433.3 762.5,419.7 716.3,419.7" fill="#ffc000"/>
</svg>
<div style="position:absolute;left:723.5px;top:396px;font-size:11.5px;line-height:14px;color:#fff;white-space:nowrap">FMXなど</div>
<div style="position:absolute;left:23px;top:376px;font-size:15px;font-weight:bold;letter-spacing:3.6px;color:#3b4447;white-space:nowrap;line-height:20px">メリット</div>
<div style="position:absolute;left:61px;top:397px;font-size:13.5px;letter-spacing:1.1px;color:#555a5e;white-space:nowrap;line-height:18.4px">簡易モデルの作成が容易に<br>FMXによるアセンブリの概念設計の容易化<br>3Dプリント用スケールアセンブリ</div>
</body></html>
